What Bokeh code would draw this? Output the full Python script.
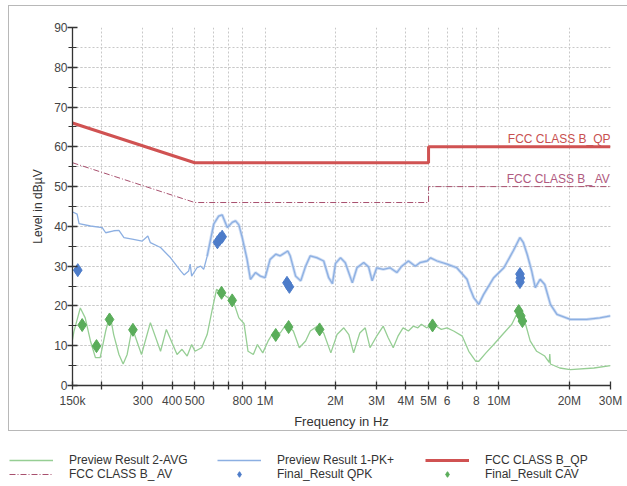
from bokeh.plotting import figure
from bokeh.layouts import column
from bokeh.models import (Range1d, FixedTicker, SingleIntervalTicker, Legend, LegendItem,
                          Label, ColumnDataSource, InlineStyleSheet)
from bokeh.embed import file_html
from bokeh.resources import INLINE

FONT = "Liberation Sans"

# ---------------- data (frequency in MHz, level in dBuV) ----------------
pk_f = [0.150, 0.152, 0.157, 0.160, 0.179, 0.201, 0.208, 0.225, 0.237, 0.249, 0.270, 0.298,
        0.315, 0.323, 0.357, 0.394, 0.435, 0.450, 0.471, 0.478, 0.485, 0.511, 0.530, 0.546,
        0.565, 0.603, 0.633, 0.655, 0.689, 0.723, 0.747, 0.772, 0.798, 0.837, 0.865, 0.909,
        0.954, 1.00, 1.05, 1.11, 1.16, 1.25, 1.28, 1.35, 1.42, 1.49, 1.56, 1.67, 1.78, 1.87,
        1.94, 2.00, 2.10, 2.20, 2.36, 2.47, 2.64, 2.77, 2.87, 3.00, 3.20, 3.42, 3.66, 3.84,
        4.10, 4.39, 4.60, 4.93, 5.10, 5.44, 6.00, 6.60, 7.30, 7.50, 7.80, 8.20, 8.60, 9.50,
        10.5, 11.5, 12.3, 12.7, 13.2, 13.8, 14.3, 15.0, 15.7, 16.6, 17.7, 20.2, 23.7, 27.0, 30.0]
pk_db = [43.5, 43.5, 43.1, 40.7, 40.1, 39.7, 38.4, 38.9, 39.0, 37.2, 36.8, 36.3,
         37.6, 35.9, 34.7, 32.1, 28.8, 27.8, 28.8, 30.5, 27.5, 29.6, 30.0, 29.2,
         32.5, 40.6, 42.6, 42.9, 39.7, 41.0, 41.4, 40.4, 37.2, 31.7, 26.7, 28.4,
         27.5, 27.1, 31.7, 33.0, 32.6, 33.8, 32.6, 27.5, 26.3, 30.0, 32.6, 32.1, 31.3, 27.1,
         25.6, 30.7, 32.1, 30.9, 25.8, 29.6, 30.9, 29.8, 26.3, 29.6, 29.2, 29.6, 28.4, 30.0,
         31.3, 30.0, 30.9, 31.3, 32.1, 31.3, 30.5, 29.6, 26.7, 24.6, 22.1, 20.4, 22.9, 27.1,
         29.6, 33.8, 37.2, 36.0, 33.0, 28.8, 24.6, 26.7, 25.4, 20.4, 17.9, 16.6, 16.6, 17.0, 17.5]

avg_f = [0.150, 0.152, 0.162, 0.170, 0.179, 0.188, 0.197, 0.208, 0.217, 0.225, 0.237, 0.247,
         0.257, 0.270, 0.296, 0.323, 0.357, 0.378, 0.420, 0.441, 0.464, 0.485, 0.501, 0.535,
         0.565, 0.592, 0.620, 0.664, 0.697, 0.731, 0.772, 0.812, 0.845, 0.890, 0.927, 0.977,
         1.03, 1.08, 1.16, 1.23, 1.32, 1.40, 1.49, 1.56, 1.67, 1.78, 1.91, 2.03, 2.17, 2.28,
         2.39, 2.54, 2.68, 2.81, 3.00, 3.20, 3.36, 3.53, 3.70, 3.89, 4.10, 4.30, 4.50, 4.66,
         4.90, 5.22, 5.67, 6.00, 6.40, 6.97, 7.43, 7.95, 8.20, 8.80, 9.50, 10.5, 11.35, 12.1,
         13.0, 13.6, 14.5, 15.7, 16.4, 16.5, 16.6, 18.2, 20.2, 25.5, 30.0]
avg_db = [11.5, 13.5, 19.5, 17.0, 11.2, 7.0, 7.0, 13.7, 17.9, 12.8, 7.8, 5.4,
          7.8, 14.5, 7.8, 15.8, 8.6, 14.1, 7.8, 9.1, 7.4, 10.3, 8.6, 9.5,
          12.8, 18.7, 24.2, 22.9, 22.0, 21.2, 17.0, 15.6, 8.6, 7.8, 10.3, 8.2,
          11.2, 13.2, 13.2, 15.4, 13.7, 9.5, 11.2, 13.7, 14.9, 13.2, 8.2, 12.8, 14.5, 12.8,
          8.2, 13.2, 14.5, 9.5, 12.4, 14.9, 12.0, 9.5, 12.4, 14.5, 13.7, 14.9, 14.5, 15.4,
          14.5, 15.4, 14.1, 14.5, 13.7, 12.4, 8.6, 6.1, 6.1, 8.2, 10.3, 13.2, 15.4, 18.7,
          15.4, 11.2, 8.6, 7.4, 5.8, 7.9, 5.4, 4.4, 4.0, 4.4, 5.0]

qpk_f = [0.158, 0.625, 0.640, 0.655, 1.24, 1.27, 12.3, 12.3, 12.35]
qpk_db = [29.0, 36.0, 36.8, 37.4, 25.8, 24.8, 28.0, 26.0, 27.0]

cav_f = [0.165, 0.190, 0.216, 0.272, 0.651, 0.723, 1.11, 1.26, 1.71, 5.2, 12.15, 12.4, 12.6]
cav_db = [15.2, 9.9, 16.6, 14.0, 23.3, 21.4, 12.7, 14.7, 14.1, 15.1, 18.7, 17.5, 16.2]

qp_f = [0.15, 0.5, 5.0, 5.0, 30.0]
qp_db = [66, 56, 56, 60, 60]
av_f = [0.15, 0.5, 5.0, 5.0, 30.0]
av_db = [56, 46, 46, 50, 50]

x_ticks = [150e3, 200e3, 300e3, 400e3, 500e3, 600e3, 700e3, 800e3, 1e6, 2e6, 3e6, 4e6,
           5e6, 6e6, 7e6, 8e6, 10e6, 20e6, 30e6]
x_tick_labels = ["150k", "", "300", "400", "500", "", "", "800", "1M", "2M", "3M", "4M",
                 "5M", "6", "", "8", "10M", "20M", "30M"]

names = ["Preview Result 2-AVG", "Preview Result 1-PK+", "FCC CLASS B_QP",
         "FCC CLASS B_ AV", "Final_Result QPK", "Final_Result CAV"]

MHZ = 1e6

# styles
C_AVG = "#96ce94"
C_PK = "#8cafe2"
C_QP = "#d05252"
C_AV = "#a8506e"
C_QPK = "#4d7cc9"
C_CAV = "#5aad5a"

# sources
pk_src = ColumnDataSource(dict(x=[f * MHZ for f in pk_f], y=pk_db))
pk_noisy = ColumnDataSource(dict(x=[f * MHZ for f in pk_f if f >= 0.56],
                                 y=[d for f, d in zip(pk_f, pk_db) if f >= 0.56]))
avg_src = ColumnDataSource(dict(x=[f * MHZ for f in avg_f], y=avg_db))
qp_src = ColumnDataSource(dict(x=[f * MHZ for f in qp_f], y=qp_db))
av_src = ColumnDataSource(dict(x=[f * MHZ for f in av_f], y=av_db))
qpk_src = ColumnDataSource(dict(x=[f * MHZ for f in qpk_f], y=qpk_db))
cav_src = ColumnDataSource(dict(x=[f * MHZ for f in cav_f], y=cav_db))

# thin grey frame around the chart area (drawn by CSS on the plot's host element)
frame_css = InlineStyleSheet(css="""
:host { position: relative; }
:host::after { content: ""; position: absolute; left: 8px; top: 5px; width: 619px;
  height: 426px; border: 1.5px solid #b8b8b8; border-right: none;
  box-sizing: border-box; pointer-events: none; }
""")

# ---------------- chart ----------------
p = figure(width=627, height=431, x_axis_type="log",
           x_range=Range1d(150e3, 30e6), y_range=Range1d(0, 90),
           output_backend="svg", toolbar_location=None,
           min_border_left=72, min_border_right=17, min_border_top=27, min_border_bottom=45,
           stylesheets=[frame_css])
p.frame_align = False
p.outline_line_color = None
p.background_fill_color = "white"
p.border_fill_color = "white"

p.xaxis.ticker = FixedTicker(ticks=x_ticks)
p.xaxis.major_label_overrides = {t: l for t, l in zip(x_ticks, x_tick_labels)}
p.yaxis.ticker = SingleIntervalTicker(interval=10, num_minor_ticks=2)
for g in (p.xgrid, p.ygrid):
    g.grid_line_color = "#c8c8c8"
    g.grid_line_dash = "2 2"
    g.grid_line_width = 1
p.ygrid.minor_grid_line_color = "#c8c8c8"
p.ygrid.minor_grid_line_dash = "2 2"

for ax in (p.xaxis, p.yaxis):
    ax.axis_line_color = "#333333"
    ax.axis_line_width = 1.3
    ax.major_tick_line_color = "#333333"
    ax.minor_tick_line_color = "#333333"
    ax.major_tick_line_width = 1.3
    ax.major_label_text_font = FONT
    ax.major_label_text_font_size = "12px"
    ax.major_label_text_color = "#444444"
    ax.axis_label_text_font = FONT
    ax.axis_label_text_font_style = "normal"
    ax.axis_label_text_color = "#333333"
p.yaxis.major_tick_in = 5
p.yaxis.major_tick_out = 5
p.yaxis.minor_tick_in = 4
p.yaxis.minor_tick_out = 4
p.xaxis.major_tick_in = 4
p.xaxis.major_tick_out = 4
p.xaxis.minor_tick_line_color = None
p.xaxis.major_label_standoff = 4
p.yaxis.major_label_standoff = 0
p.xaxis.axis_label = "Frequency in Hz"
p.yaxis.axis_label = "Level in dBµV"
p.xaxis.axis_label_text_font_size = "13px"
p.yaxis.axis_label_text_font_size = "12px"
p.xaxis.axis_label_standoff = 3
p.yaxis.axis_label_standoff = 6


def draw(fig):
    """Draw every series into fig; returns the renderers for the legend."""
    r_av = fig.line("x", "y", source=av_src, line_color=C_AV, line_width=1,
                    line_dash="6 2 1 2")
    r_qp = fig.line("x", "y", source=qp_src, line_color=C_QP, line_width=3)
    r_avg = fig.line("x", "y", source=avg_src, line_color=C_AVG, line_width=1.3)
    fig.line("x", "y", source=pk_noisy, line_color="#a4c0ea", line_width=3, line_alpha=0.55)
    r_pk = fig.line("x", "y", source=pk_src, line_color=C_PK, line_width=1.3)
    r_qpk = fig.scatter("x", "y", source=qpk_src, marker="diamond", size=13,
                        fill_color=C_QPK, line_color=C_QPK)
    r_cav = fig.scatter("x", "y", source=cav_src, marker="diamond", size=13,
                        fill_color=C_CAV, line_color=C_CAV)
    return [r_avg, r_pk, r_qp, r_av, r_qpk, r_cav]


draw(p)

p.add_layout(Label(x=30e6, y=qp_db[-1], text=names[2], text_align="right",
                   text_baseline="bottom", y_offset=1,
                   text_font=FONT, text_font_size="12px", text_color="#c85050"))
p.add_layout(Label(x=30e6, y=av_db[-1], text=names[3], text_align="right",
                   text_baseline="bottom", y_offset=1,
                   text_font=FONT, text_font_size="12px", text_color="#b05a80"))

# ---------------- legend strip (series lie outside its ranges, only the key shows) ----
lg = figure(width=627, height=55, x_range=Range1d(0, 1), y_range=Range1d(0, 1),
            x_axis_location=None, y_axis_location=None,
            output_backend="svg", toolbar_location=None,
            min_border_left=0, min_border_right=0, min_border_top=0, min_border_bottom=0)
lg.frame_align = False
lg.grid.visible = False
lg.outline_line_color = None
lg.border_fill_color = "white"
lg.background_fill_color = "white"

rends = draw(lg)
legend = Legend(items=[LegendItem(label=n, renderers=[r]) for n, r in zip(names, rends)],
                location=(9, 5), orientation="horizontal", ncols=3,
                glyph_width=44, glyph_height=14, label_height=14, label_width=148,
                label_standoff=16, spacing=0, padding=0, margin=0,
                border_line_color=None, background_fill_alpha=0,
                label_text_font=FONT, label_text_font_size="12px",
                label_text_color="#333333")
lg.add_layout(legend)

open("out.html", "w").write(file_html(column(p, lg, spacing=0), INLINE))
